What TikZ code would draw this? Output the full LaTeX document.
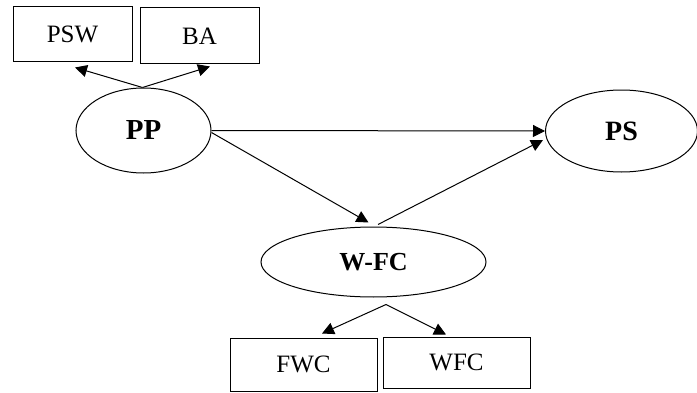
\documentclass[tikz,border=0pt]{standalone}
\usepackage{fontspec}
\setmainfont{Liberation Serif}
\usetikzlibrary{arrows.meta,calc,shapes.geometric}

\begin{document}
\begin{tikzpicture}[x=1pt,y=1pt,
  box/.style={draw,line width=1pt,inner sep=0pt,font=\fontsize{25}{30}\selectfont},
  oval/.style={draw,ellipse,line width=1pt,inner sep=0pt,font=\fontsize{26}{31}\selectfont\bfseries},
  link/.style={line width=1pt,-{Triangle[length=12pt,width=12pt]}}]
\useasboundingbox (0,0) rectangle (697,392);

% the three constructs
\node[oval,minimum width=135pt,minimum height=85pt,font=\fontsize{29}{34}\selectfont\bfseries] (PP) at (143.5,261.5) {PP};
\node[oval,minimum width=152pt,minimum height=82pt,font=\fontsize{28}{33}\selectfont\bfseries] (PS) at (621.5,261) {PS};
\node[oval,minimum width=225pt,minimum height=70pt] (WFC) at (373.5,130) {W-FC};

% dimensions
\node[box,minimum width=119pt,minimum height=55pt] (PSW) at (72.5,357.5) {PSW};
\node[box,minimum width=119pt,minimum height=56pt] (BA) at (199.5,356) {BA};
\node[box,minimum width=147pt,minimum height=53pt] (FWCb) at (303.5,27.5) {FWC};
\node[box,minimum width=147pt,minimum height=51pt] (WFCb) at (456.5,29.5) {WFC};

\coordinate (top) at ($(PP.north)+(-1,0)$);
\coordinate (bot) at ($(WFC.south)+(12.5,-7)$);

\draw[link] (top) -- ([shift={(2.5,-5)}]PSW.south);
\draw[link] (top) -- ([shift={(10.5,-2)}]BA.south);

\draw[link] (PP.east) -- (PS.west);
\draw[link] ([yshift=-2]PP.east) -- ([shift={(-5,4)}]WFC.north);
\draw[link] ([shift={(4.5,2)}]WFC.north) -- ([shift={(-2,-9)}]PS.west);

\draw[link] (bot) -- ([shift={(18.5,4)}]FWCb.north);
\draw[link] (bot) -- ([shift={(-10.5,2)}]WFCb.north);

\end{tikzpicture}
\end{document}
